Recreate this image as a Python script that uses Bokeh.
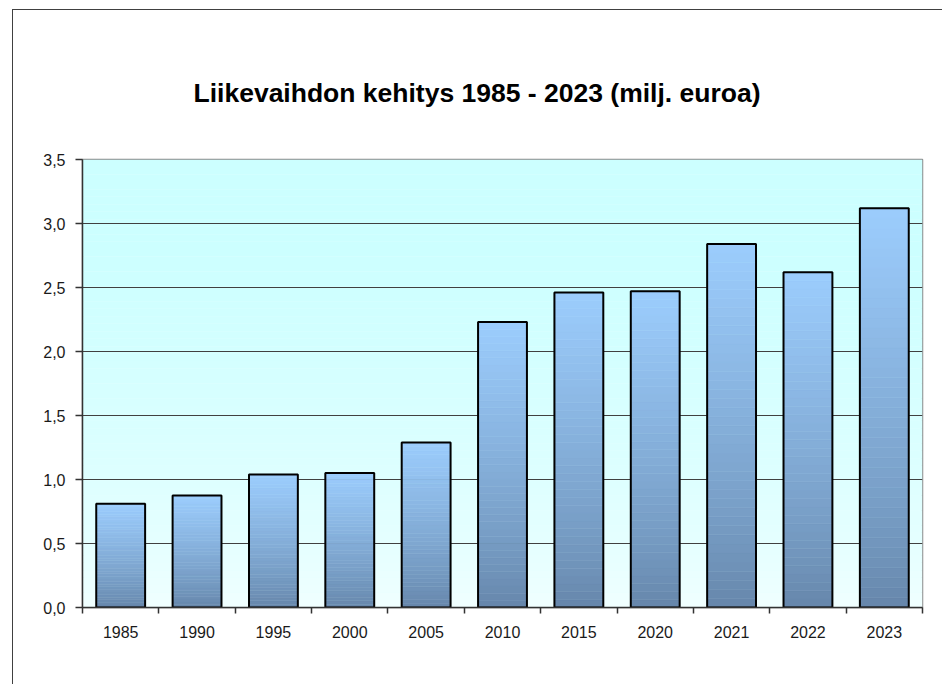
import numpy as np
from bokeh.plotting import figure
from bokeh.models import Range1d, FixedTicker, Title
from bokeh.embed import file_html
from bokeh.resources import INLINE

# ---- data ----
years = ["1985", "1990", "1995", "2000", "2005", "2010", "2015", "2020", "2021", "2022", "2023"]
values = [0.81, 0.875, 1.04, 1.05, 1.29, 2.23, 2.46, 2.47, 2.84, 2.62, 3.12]
y_ticks = [0.0, 0.5, 1.0, 1.5, 2.0, 2.5, 3.0, 3.5]
y_tick_labels = ["0,0", "0,5", "1,0", "1,5", "2,0", "2,5", "3,0", "3,5"]
title_text = "Liikevaihdon kehitys 1985 - 2023 (milj. euroa)"

# ---- styling helpers ----
def hex2rgb(h):
    h = h.lstrip("#")
    return [int(h[i:i + 2], 16) for i in (0, 2, 4)]

def mix(c0, c1, t):
    a, b = hex2rgb(c0), hex2rgb(c1)
    return "#%02x%02x%02x" % tuple(int(round(a[i] + (b[i] - a[i]) * t)) for i in range(3))

BAR_BOTTOM = "#6585a9"
BAR_TOP = "#9ccdfd"
BG_BOTTOM = "#f3ffff"
BG_TOP = "#ccffff"
FONT = "Liberation Sans"

n = len(years)
xs = list(range(n))
y_max = y_ticks[-1]

p = figure(width=930, height=675, output_backend="svg", toolbar_location=None,
           x_range=Range1d(-0.5, n - 0.5), y_range=Range1d(0, y_max),
           min_border_left=69, min_border_right=21, min_border_top=149, min_border_bottom=78,
           background_fill_color="#e6ffff", border_fill_color="white")
p.styles = {"margin-left": "12px", "margin-top": "9px",
            "border-left": "1px solid #404040", "border-top": "1px solid #404040"}

# background gradient bands
NB = 60
bg_b, bg_t, bg_c = [], [], []
for i in range(NB):
    bg_b.append(y_max * i / NB)
    bg_t.append(y_max * (i + 1) / NB)
    bg_c.append(mix(BG_BOTTOM, BG_TOP, min(1.0, ((i + 0.5) / NB) ** 0.6 * 1.15)))
p.quad(left=-0.5, right=n - 0.5, bottom=bg_b, top=bg_t, fill_color=bg_c,
       line_color=None, level="image")

# bar gradient slices
NS = 40
sx, sb, st, sc = [], [], [], []
for x, v in zip(xs, values):
    for i in range(NS):
        sx.append(x)
        sb.append(v * i / NS)
        st.append(v * (i + 1) / NS)
        sc.append(mix(BAR_BOTTOM, BAR_TOP, ((i + 0.5) / NS) ** 0.8))
W = 0.64
p.vbar(x=sx, bottom=sb, top=st, width=W, fill_color=sc, line_color=sc, line_width=0.5)
p.vbar(x=xs, bottom=0, top=values, width=W, fill_color=None, line_color="black", line_width=2)

# title
p.add_layout(Title(text=title_text, align="left", offset=111, standoff=104,
                   text_font=FONT, text_font_size="26.5px", text_font_style="bold",
                   text_color="black"), "above")

# axes
p.xaxis.ticker = FixedTicker(ticks=xs, minor_ticks=[x - 0.5 for x in range(n + 1)])
p.xaxis.major_label_overrides = {x: y for x, y in zip(xs, years)}
p.xaxis.major_tick_out = 0
p.xaxis.major_tick_in = 0
p.xaxis.minor_tick_out = 6
p.xaxis.minor_tick_in = 0
p.xaxis.minor_tick_line_color = "#333333"
p.xaxis.minor_tick_line_width = 1.5
p.xaxis.major_label_standoff = 12
p.xaxis.axis_line_color = "#333333"
p.xaxis.axis_line_width = 1.5

p.yaxis.ticker = FixedTicker(ticks=y_ticks)
p.yaxis.major_label_overrides = {t: l for t, l in zip(y_ticks, y_tick_labels)}
p.yaxis.major_tick_out = 7
p.yaxis.major_tick_in = 0
p.yaxis.minor_tick_out = 0
p.yaxis.minor_tick_in = 0
p.yaxis.major_tick_line_color = "#333333"
p.yaxis.major_tick_line_width = 1.5
p.yaxis.axis_line_color = "#333333"
p.yaxis.axis_line_width = 1.5
p.yaxis.major_label_standoff = 10

for ax in (p.xaxis, p.yaxis):
    ax.major_label_text_font = FONT
    ax.major_label_text_font_size = "16px"
    ax.major_label_text_color = "#1a1a1a"

p.xgrid.visible = False
p.ygrid.ticker = FixedTicker(ticks=y_ticks)
p.ygrid.grid_line_color = "#404040"
p.ygrid.grid_line_width = 1.2

p.outline_line_color = "#8a8a8a"
p.outline_line_width = 1.5

open("out.html", "w").write(file_html(p, INLINE))
